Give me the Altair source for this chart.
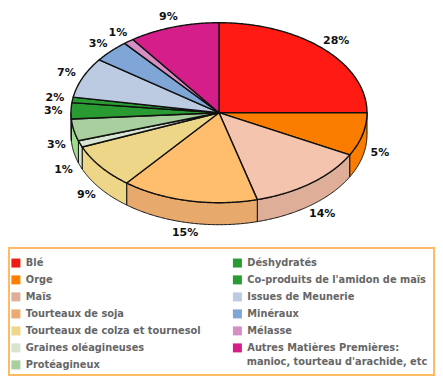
import numpy as np
import pandas as pd
import altair as alt

categories = ["Blé", "Orge", "Maïs", "Tourteaux de soja", "Tourteaux de colza et tournesol",
              "Graines oléagineuses", "Protéagineux", "Déshydratés",
              "Co-produits de l'amidon de maïs", "Issues de Meunerie", "Minéraux", "Mélasse",
              "Autres Matières Premières:"]
labels = ["28%", "5%", "14%", "15%", "9%", "1%", "3%", "3%", "2%", "7%", "3%", "1%", "9%"]
# drawn sweep of each slice on the tilted disc (degrees)
sweep = [90, 28, 47, 53.6, 29, 4.2, 14.2, 10.4, 3.6, 26, 14.4, 4, 35.6]
top_colors = ["#FF1A14", "#FA7D00", "#F5C4AE", "#FFBE6E", "#EED688", "#D8E6D4", "#A9CF9E",
              "#2A9A32", "#2A9A32", "#BCCAE2", "#7FA6D6", "#D68FC4", "#D61E8A"]
side_colors = ["#EE1C14", "#FA7D00", "#DEAE98", "#E8A96D", "#EED688", "#D8E4D0", "#A0DC8C",
               "#2A9A32", "#2A9A32", "#BCCAE2", "#7FA6D6", "#D68FC4", "#D61E8A"]
legend_colors = ["#EE1C14", "#FF8000", "#E0AD98", "#EDAA70", "#F0D68A", "#D8E4D0", "#A9CF9E",
                 "#2A9A32", "#2A9A32", "#BCCAE2", "#7FA6D6", "#D68FC4", "#D61E8A"]
legend_extra_line = "manioc, tourteau d'arachide, etc"

RX, RY, DEPTH = 148.0, 90.0, 22.0
CX, CY = 219.0, 112.7
drop = DEPTH / RY

edges = np.concatenate([[0], np.cumsum(sweep)])
top_rows, wall_rows, label_rows = [], [], []
for i, cat in enumerate(categories):
    a, b = edges[i], edges[i + 1]
    ts = np.radians(np.linspace(a, b, max(int(b - a) * 2, 3)))
    pts = [(0.0, 0.0)] + [(np.sin(t), np.cos(t)) for t in ts] + [(0.0, 0.0)]
    for k, (u, v) in enumerate(pts):
        top_rows.append(dict(cat=cat, fillc=top_colors[i], u=u, v=v, k=k))
    wa, wb = max(a, 90), min(b, 270)
    if wb > wa:
        ts = np.radians(np.linspace(wa, wb, max(int(wb - wa) * 2, 3)))
        upper = [(np.sin(t), np.cos(t)) for t in ts]
        lower = [(u, v - drop) for u, v in upper][::-1]
        poly = upper + lower + upper[:1]
        for k, (u, v) in enumerate(poly):
            wall_rows.append(dict(cat=cat, fillc=side_colors[i], u=u, v=v, k=k))
    t = np.radians((a + b) / 2)
    off = drop * np.clip(-np.cos(t) * 3, 0, 1)
    label_rows.append(dict(text=labels[i], u=1.12 * np.sin(t), v=1.12 * np.cos(t) - off))

xs = alt.Scale(domain=[(8 - CX) / RX, (435 - CX) / RX], nice=False, zero=False)
ys = alt.Scale(domain=[(CY - 381) / RY, (CY - 8) / RY], nice=False, zero=False)
X = alt.X("u:Q", scale=xs, axis=None)
Y = alt.Y("v:Q", scale=ys, axis=None)


def faces(rows, width):
    return alt.Chart(pd.DataFrame(rows)).mark_line(
        filled=True, stroke="#111111", strokeWidth=width, strokeJoin="round"
    ).encode(x=X, y=Y, order="k:Q", detail="cat:N", fill=alt.Fill("fillc:N", scale=None))


walls = faces(wall_rows, 1.0)
tops = faces(top_rows, 1.4)

pct = alt.Chart(pd.DataFrame(label_rows)).mark_text(
    font="DejaVu Sans", fontSize=11, fontWeight="bold", color="#111111"
).encode(x=X, y=Y, text="text:N")

legend_layer = alt.Chart(pd.DataFrame(dict(cat=categories, u=0.0, v=0.0))).mark_point(
    shape="square", filled=True, size=0
).encode(
    x=X, y=Y,
    color=alt.Color("cat:N", sort=categories,
                    scale=alt.Scale(domain=categories, range=legend_colors),
                    legend=alt.Legend(
                        orient="none", legendX=3, legendY=250, title=None, columns=2,
                        direction="vertical", symbolType="square", symbolSize=81,
                        symbolOpacity=1, symbolStrokeWidth=0,
                        labelFont="DejaVu Sans", labelFontSize=9.8, labelFontWeight="bold",
                        labelColor="#666666", labelLimit=300, labelOffset=5,
                        rowPadding=6, columnPadding=31.5, padding=0, zindex=1)),
)

box = alt.Chart(pd.DataFrame(dict(a=[0]))).mark_rect(
    filled=False, stroke="#FDBB66", strokeWidth=2
).encode(x=alt.value(1), x2=alt.value(426), y=alt.value(240), y2=alt.value(367))

extra = alt.Chart(pd.DataFrame(dict(t=[legend_extra_line]))).mark_text(
    font="DejaVu Sans", fontSize=9.8, fontWeight="bold", color="#666666", align="left"
).encode(x=alt.value(238.7), y=alt.value(353.7), text="t:N")

chart = alt.layer(walls, tops, pct, legend_layer, box, extra).properties(
    width=427, height=373, padding=0,
    autosize=alt.AutoSizeParams(type="none"),
    background="white",
).configure_view(stroke=None)

chart.save("out.html", embed_options={"renderer": "svg", "actions": False})
